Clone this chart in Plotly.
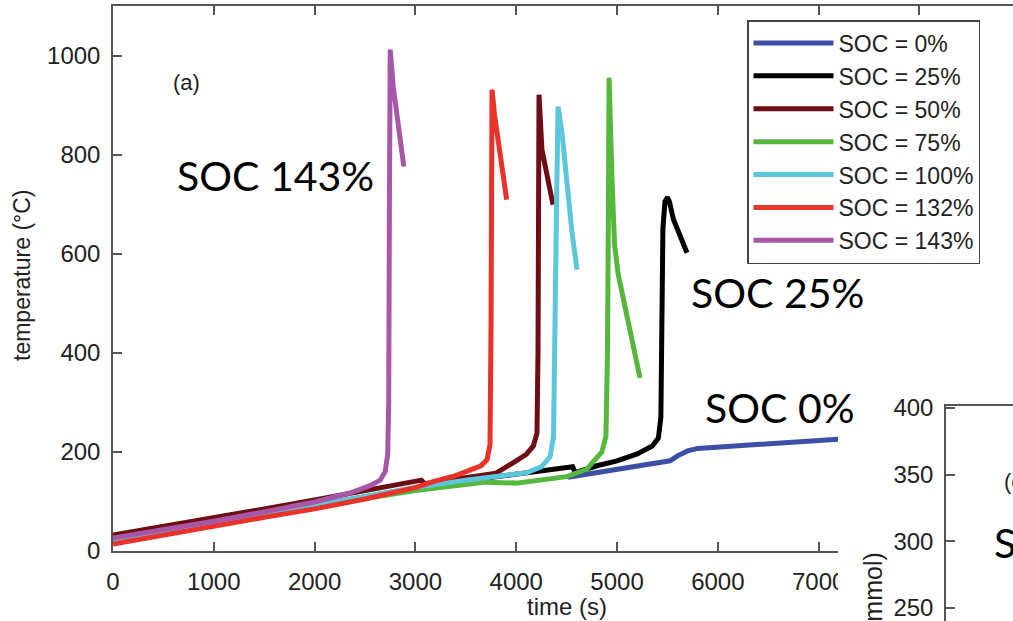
import plotly.graph_objects as go

W, H = 1013, 621


def px(x):
    return x / W


def py(y):
    return 1 - y / H


# ---------------- data (time in s, temperature in degC) ----------------
soc_labels = ["SOC = 0%", "SOC = 25%", "SOC = 50%", "SOC = 75%",
              "SOC = 100%", "SOC = 132%", "SOC = 143%"]
colors = ["#3c4fa6", "#000000", "#6e0d14", "#55b83c", "#5cc6dc", "#ea3228", "#a857a8"]

t_soc0 = [4514, 4800, 5000, 5300, 5526, 5600, 5700, 5800, 6000, 6300, 6700, 7100, 7300]
T_soc0 = [149, 158, 165, 173, 182, 192, 202, 207, 210, 214, 219, 225, 227]

t_soc25 = [0, 500, 1000, 1500, 2000, 2500, 3000, 3500, 4000, 4560, 4585, 4800, 5000,
           5200, 5350, 5410, 5435, 5445, 5455, 5475, 5500, 5520, 5560, 5694]
T_soc25 = [22, 38, 56, 74, 92, 110, 127, 142, 155, 170, 158, 172, 182,
           196, 212, 228, 270, 420, 650, 705, 714, 705, 669, 602]

t_soc50 = [0, 500, 1000, 1500, 2000, 2500, 3000, 3060, 3090, 3500, 3800, 3968, 4100,
           4170, 4206, 4216, 4222, 4226, 4255, 4365]
T_soc50 = [32, 49, 67, 85, 103, 121, 139, 143, 136, 147, 157, 178, 195,
           212, 238, 400, 700, 921, 810, 699]

t_soc75 = [0, 500, 1000, 1500, 2000, 2500, 3000, 3500, 3700, 4000, 4500, 4700, 4762,
           4850, 4890, 4905, 4915, 4921, 4950, 4975, 5010, 5060, 5110, 5160, 5228]
T_soc75 = [20, 36, 54, 71, 89, 106, 122, 134, 139, 137, 150, 165, 178,
           200, 232, 400, 700, 955, 750, 620, 560, 510, 467, 420, 349]

t_soc100 = [0, 500, 1000, 1500, 2000, 2500, 3000, 3500, 3800, 4100, 4250, 4335, 4370,
            4385, 4400, 4415, 4454, 4554, 4603]
T_soc100 = [22, 38, 56, 74, 92, 111, 128, 143, 150, 158, 170, 190, 230,
            400, 700, 897, 844, 642, 568]

t_soc132 = [0, 500, 1000, 1500, 2000, 2500, 3000, 3175, 3400, 3571, 3650, 3710, 3740,
            3750, 3755, 3760, 3785, 3905]
T_soc132 = [14, 32, 52, 68, 85, 105, 128, 140, 152, 164, 172, 184, 215,
            450, 750, 931, 880, 709]

t_soc143 = [0, 500, 1000, 1500, 2000, 2350, 2550, 2650, 2700, 2725, 2735, 2742, 2750,
            2780, 2885]
T_soc143 = [26, 42, 60, 79, 99, 117, 132, 143, 160, 195, 300, 700, 1012,
            937, 776]

series_t = [t_soc0, t_soc25, t_soc50, t_soc75, t_soc100, t_soc132, t_soc143]
series_T = [T_soc0, T_soc25, T_soc50, T_soc75, T_soc100, T_soc132, T_soc143]

x_ticks = [0, 1000, 2000, 3000, 4000, 5000, 6000, 7000]
x_top_ticks = [0, 1000, 2000, 3000, 4000, 5000, 6000, 7000, 8000]
y_ticks = [0, 200, 400, 600, 800, 1000]
y2_ticks = [250, 300, 350, 400]

AX = "#555555"
TXT = "#222222"
TICKFONT = dict(family="Liberation Sans, Arial", size=24, color=TXT)
BIG = dict(family="Lato", size=41, color="#000000")

fig = go.Figure()
for lab, col, tx, ty in zip(soc_labels, colors, series_t, series_T):
    fig.add_trace(go.Scatter(x=tx, y=ty, mode="lines", name=lab,
                             line=dict(color=col, width=5),
                             xaxis="x", yaxis="y"))

# empty traces so the extra axes get drawn
fig.add_trace(go.Scatter(x=[], y=[], xaxis="x3", yaxis="y", showlegend=False, hoverinfo="skip"))
fig.add_trace(go.Scatter(x=[], y=[], xaxis="x2", yaxis="y2", showlegend=False, hoverinfo="skip"))

common = dict(showgrid=False, zeroline=False, showline=True, linecolor=AX, linewidth=1.5,
              ticks="inside", tickcolor=AX, tickwidth=1.5, ticklen=9, tickfont=TICKFONT,
              automargin=False, ticklabeloverflow="allow")

fig.update_layout(
    width=W, height=H,
    margin=dict(l=0, r=0, t=0, b=0, pad=0, autoexpand=False),
    paper_bgcolor="white", plot_bgcolor="rgba(0,0,0,0)",
    xaxis=dict(domain=[px(113), px(838)], range=[0, 7192], tickvals=x_ticks,
               anchor="y", ticklabelstandoff=8, **common),
    xaxis3=dict(domain=[px(113), 1], range=[0, 8929], tickvals=x_top_ticks,
                anchor="y", side="top", showticklabels=False, **common),
    yaxis=dict(domain=[py(551), py(6)], range=[0, 1100], tickvals=y_ticks,
               anchor="x", ticklabelstandoff=6, **common),
    xaxis2=dict(domain=[px(946), 1], range=[0, 1], anchor="y2", side="top",
                showticklabels=False, showgrid=False, zeroline=False, showline=True,
                linecolor=AX, linewidth=1.5, ticks="", automargin=False),
    yaxis2=dict(domain=[0, py(406)], range=[240.25, 401.5], tickvals=y2_ticks,
                anchor="x2", ticklabelstandoff=6, **common),
    legend=dict(x=px(747), y=py(20), xanchor="left", yanchor="top",
                bgcolor="white", bordercolor="#444444", borderwidth=1.5,
                font=dict(family="Liberation Sans, Arial", size=23, color=TXT),
                itemwidth=80, tracegroupgap=0),
    showlegend=True,
)

# hide the tail of the cut-off "7000" label
fig.add_shape(type="rect", xref="paper", yref="paper",
              x0=px(838), x1=px(880), y0=py(600), y1=py(558),
              fillcolor="white", line=dict(width=0), layer="above")

annos = [
    dict(text="(a)", x=px(186), y=py(82), font=dict(family="Liberation Sans, Arial", size=22, color=TXT)),
    dict(text="temperature (°C)", x=px(22), y=py(275), textangle=-90,
         font=dict(family="Liberation Sans, Arial", size=23, color=TXT)),
    dict(text="time (s)", x=px(567), y=py(606), font=dict(family="Liberation Sans, Arial", size=24, color=TXT)),
    dict(text="SOC 143%", x=px(275), y=py(176), font=BIG),
    dict(text="SOC 25%", x=px(777), y=py(292), font=BIG),
    dict(text="SOC 0%", x=px(780), y=py(407), font=BIG),
    dict(text="(c)", x=px(1002), y=py(481), xanchor="left",
         font=dict(family="Liberation Sans, Arial", size=22, color=TXT)),
    dict(text="SOC", x=px(992), y=py(542), xanchor="left", font=BIG),
    dict(text="(mmol)", x=px(873), y=py(550), yanchor="top", textangle=-90,
         font=dict(family="Liberation Sans, Arial", size=25, color=TXT)),
]
for a in annos:
    base = dict(xref="paper", yref="paper", showarrow=False, xanchor="center", yanchor="middle")
    base.update(a)
    fig.add_annotation(**base)

fig.write_html("out.html",
               config={"displayModeBar": False},
               post_script="document.body.style.margin='0px';"
                           "document.body.style.overflow='hidden';")
